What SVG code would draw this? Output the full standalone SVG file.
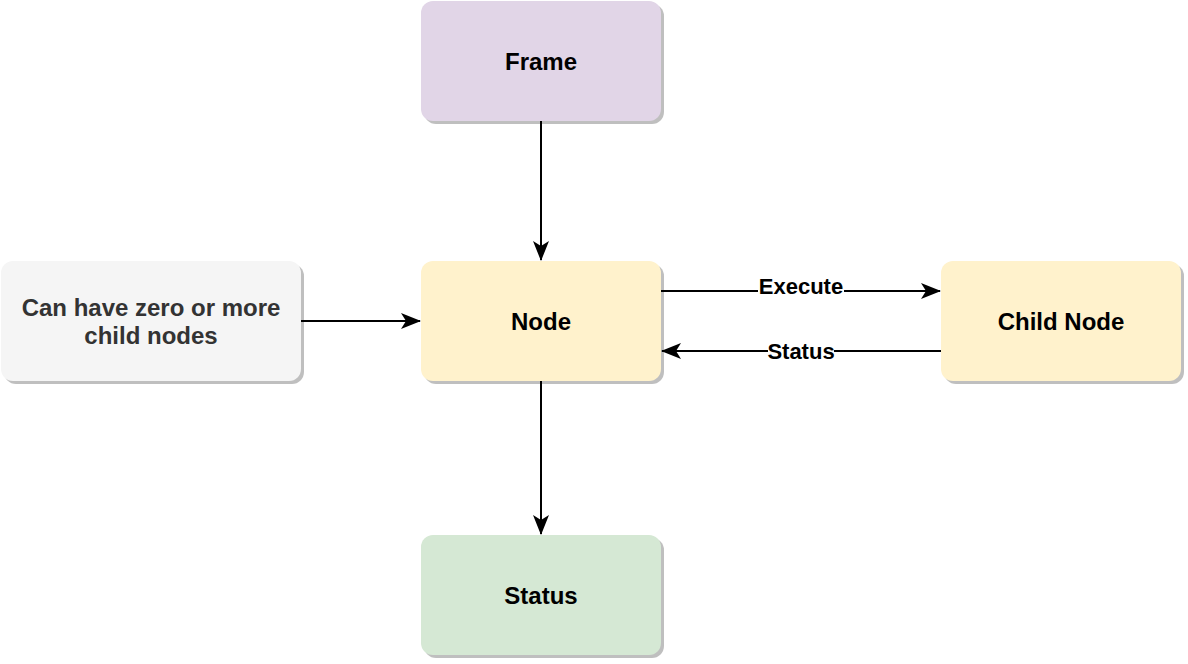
<svg xmlns="http://www.w3.org/2000/svg" width="1188" height="664" viewBox="0 0 1188 664">
<style>
.box{stroke:none}
.sh{fill:#000;fill-opacity:0.25;stroke:none}
.t{font-family:"Liberation Sans",Arial,sans-serif;font-weight:bold;font-size:24px;text-anchor:middle;dominant-baseline:central;fill:#000}
.el{font-family:"Liberation Sans",Arial,sans-serif;font-weight:bold;font-size:22px;text-anchor:middle;dominant-baseline:central;fill:#000}
.ln{stroke:#000;stroke-width:2;fill:none}
</style>
<defs>
<marker id="arr" viewBox="0 0 20 16" refX="19" refY="8" markerWidth="20" markerHeight="16" markerUnits="userSpaceOnUse" orient="auto">
<path d="M0,0 L20,8 L0,16 L5,8 Z" fill="#000"/>
</marker>
</defs>
<rect width="1188" height="664" fill="#fff"/>
<g id="connectors">
<line class="ln" x1="541" y1="121" x2="541" y2="260" marker-end="url(#arr)"/>
<line class="ln" x1="301" y1="321" x2="420" y2="321" marker-end="url(#arr)"/>
<line class="ln" x1="661" y1="291" x2="940" y2="291" marker-end="url(#arr)"/>
<line class="ln" x1="941" y1="351" x2="662" y2="351" marker-end="url(#arr)"/>
<line class="ln" x1="541" y1="381" x2="541" y2="534" marker-end="url(#arr)"/>
<rect x="758" y="275" width="86" height="22" fill="#fff"/>
<text class="el" x="801" y="286">Execute</text>
<rect x="768" y="340" width="66" height="22" fill="#fff"/>
<text class="el" x="801" y="351">Status</text>
</g>
<g id="frame">
<rect class="sh" x="424" y="4" width="240" height="120" rx="12"/>
<rect class="box" x="421" y="1" width="240" height="120" rx="12" fill="#e1d5e7"/>
<text class="t" x="541" y="61">Frame</text>
</g>
<g id="node">
<rect class="sh" x="424" y="264" width="240" height="120" rx="12"/>
<rect class="box" x="421" y="261" width="240" height="120" rx="12" fill="#fff2cc"/>
<text class="t" x="541" y="321">Node</text>
</g>
<g id="child-node">
<rect class="sh" x="944" y="264" width="240" height="120" rx="12"/>
<rect class="box" x="941" y="261" width="240" height="120" rx="12" fill="#fff2cc"/>
<text class="t" x="1061" y="321">Child Node</text>
</g>
<g id="note">
<rect class="sh" x="4" y="264" width="300" height="120" rx="12"/>
<rect class="box" x="1" y="261" width="300" height="120" rx="12" fill="#f5f5f5"/>
<text class="t" x="151" y="307" style="fill:#333333">Can have zero or more</text>
<text class="t" x="151" y="335" style="fill:#333333">child nodes</text>
</g>
<g id="status">
<rect class="sh" x="424" y="538" width="240" height="120" rx="12"/>
<rect class="box" x="421" y="535" width="240" height="120" rx="12" fill="#d5e8d4"/>
<text class="t" x="541" y="595">Status</text>
</g>
</svg>
